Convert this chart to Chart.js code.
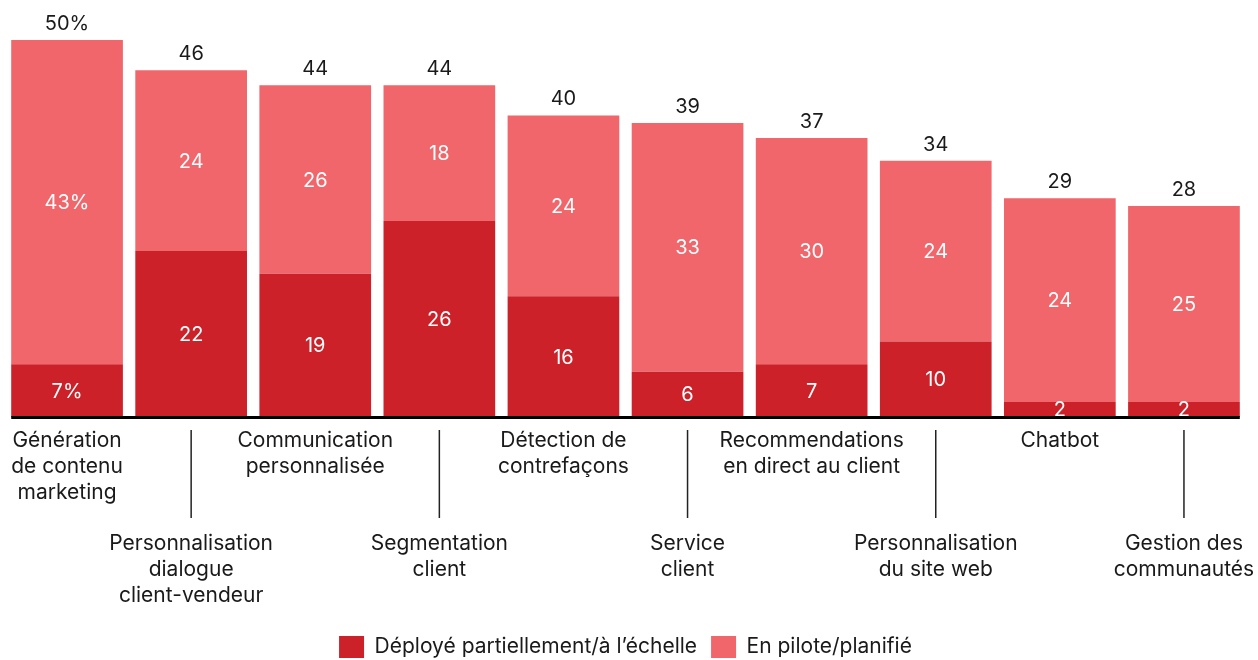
<!DOCTYPE html>
<html>
<head>
<meta charset="utf-8">
<script src="https://cdn.jsdelivr.net/npm/chart.js@4"></script>
<style>
  html, body { margin: 0; padding: 0; background: #fff; }
  #wrap { width: 1258px; height: 660px; }
</style>
</head>
<body>
<div id="wrap"><canvas id="chart"></canvas></div>
<script>
// Data
const categories = [
    ['Génération', 'de contenu', 'marketing'],
    ['Personnalisation', 'dialogue', 'client-vendeur'],
    ['Communication', 'personnalisée'],
    ['Segmentation', 'client'],
    ['Détection de', 'contrefaçons'],
    ['Service', 'client'],
    ['Recommendations', 'en direct au client'],
    ['Personnalisation', 'du site web'],
    ['Chatbot'],
    ['Gestion des', 'communautés']
];
const deployed = [7, 22, 19, 26, 16, 6, 7, 10, 2, 2];
const pilot = [43, 24, 25, 18, 24, 33, 30, 24, 27, 26];
// numbers printed on the chart
const deployedLabels = ['7%', '22', '19', '26', '16', '6', '7', '10', '2', '2'];
const pilotLabels = ['43%', '24', '26', '18', '24', '33', '30', '24', '24', '25'];
const totalLabels = ['50%', '46', '44', '44', '40', '39', '37', '34', '29', '28'];

const DARK = '#cc2129';
const LIGHT = '#f0666a';
const FONT = 'Inter, "Noto Sans", sans-serif';

const labelPlugin = {
    id: 'labels',
    afterDatasetsDraw: (chart) => {
        const { ctx, chartArea } = chart;
        const metaD = chart.getDatasetMeta(0);
        const metaP = chart.getDatasetMeta(1);
        ctx.save();
        ctx.font = '20px ' + FONT;
        ctx.textAlign = 'center';
        ctx.textBaseline = 'middle';

        metaD.data.forEach((bar, i) => {
            ctx.fillStyle = '#fff';
            ctx.fillText(deployedLabels[i], bar.x, (bar.y + bar.base) / 2 + 1);
            const top = metaP.data[i];
            ctx.fillText(pilotLabels[i], top.x, (top.y + top.base) / 2 + 1);
            ctx.fillStyle = '#1a1a1a';
            ctx.fillText(totalLabels[i], top.x, top.y - 16);
        });

        // baseline
        const first = metaD.data[0], last = metaD.data[metaD.data.length - 1];
        ctx.fillStyle = '#000';
        ctx.fillRect(first.x - first.width / 2, chartArea.bottom - 1, (last.x + last.width / 2) - (first.x - first.width / 2), 3);

        // category labels, staggered
        const xScale = chart.scales.x;
        ctx.fillStyle = '#1a1a1a';
        ctx.font = '21px ' + FONT;
        categories.forEach((lines, i) => {
            const x = xScale.getPixelForValue(i);
            const low = i % 2 === 1;
            const y0 = low ? 544 : 441;
            lines.forEach((line, k) => ctx.fillText(line, x, y0 + k * 26));
            if (low) {
                ctx.strokeStyle = '#222';
                ctx.lineWidth = 1.5;
                ctx.beginPath();
                ctx.moveTo(x, 430);
                ctx.lineTo(x, 518);
                ctx.stroke();
            }
        });
        ctx.restore();
    }
};

new Chart(document.getElementById('chart'), {
    type: 'bar',
    data: {
        labels: categories.map(c => c.join(' ')),
        datasets: [
            { label: 'Déployé partiellement/à l’échelle', data: deployed, backgroundColor: DARK },
            { label: 'En pilote/planifié', data: pilot, backgroundColor: LIGHT }
        ]
    },
    options: {
        responsive: true,
        maintainAspectRatio: false,
        animation: false,
        layout: { padding: { top: 40, left: 5, right: 12, bottom: -8 } },
        datasets: { bar: { categoryPercentage: 1, barPercentage: 0.9, borderWidth: 0 } },
        scales: {
            x: {
                stacked: true,
                grid: { display: false },
                border: { display: false },
                ticks: { display: false },
                afterFit: (scale) => { scale.height = 205; }
            },
            y: { stacked: true, display: false, min: 0, max: 50 }
        },
        plugins: {
            legend: {
                position: 'bottom',
                labels: {
                    color: '#1a1a1a',
                    font: { family: FONT, size: 21 },
                    boxWidth: 25,
                    boxHeight: 22,
                    padding: 14
                }
            },
            tooltip: { enabled: false }
        }
    },
    plugins: [labelPlugin]
});
</script>
</body>
</html>
